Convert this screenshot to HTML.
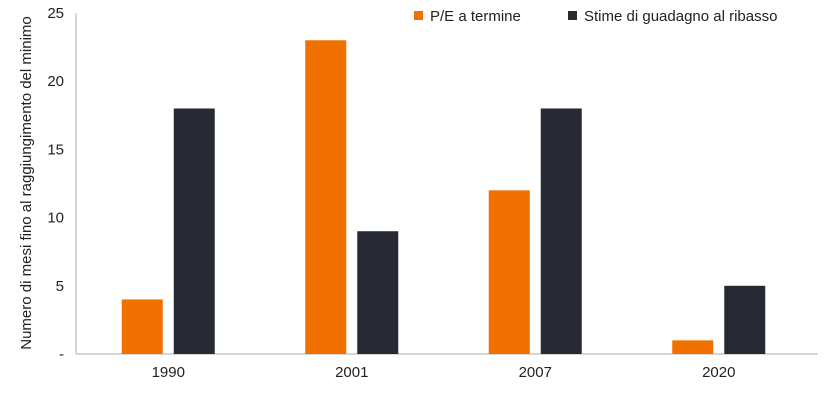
<!DOCTYPE html>
<html><head><meta charset="utf-8"><style>
html,body{margin:0;padding:0;background:#fff;}
svg{display:block;font-family:"Liberation Sans",Arial,sans-serif;}
</style></head><body>
<svg id="chart" width="824" height="406" viewBox="0 0 824 406"></svg>
<script>
const categories = ["1990","2001","2007","2020"];
const peValues = [4,23,12,1];
const earningsValues = [18,9,18,5];
const yTicks = [0,5,10,15,20,25];
const yTickLabels = ["-","5","10","15","20","25"];
const seriesNames = ["P/E a termine","Stime di guadagno al ribasso"];

const svg = document.getElementById('chart');
const NS = 'http://www.w3.org/2000/svg';
const x0 = 76, x1 = 810, yBase = 354, yTop = 13, yMax = 25;
const band = (x1 - x0) / categories.length;
const yScale = v => yBase - (v / yMax) * (yBase - yTop);
const bandCenter = i => x0 + band * (i + 0.5) + 0.5;
const barW = 41, gap = 11;

function mk(tag, attrs, parent) {
  const e = document.createElementNS(NS, tag);
  for (const k in attrs) e.setAttribute(k, attrs[k]);
  (parent || svg).appendChild(e);
  return e;
}

// axes
const yAxis = mk('line', {x1:x0, y1:yTop, x2:x0, y2:yBase, stroke:'#c8c8c8', 'stroke-width':1.5});


const xAxis = mk('line', {x1:x0, y1:yBase, x2:818, y2:yBase, stroke:'#c8c8c8', 'stroke-width':1.5});



yTicks.forEach((v, i) => {
  const t = mk('text', {x:64, y:yScale(v) + 5, 'text-anchor':'end', 'font-size':15, fill:'#222'});
  t.textContent = yTickLabels[i];
  
  
});

const yTitle = mk('text', {transform:'translate(31,183) rotate(-90)', 'text-anchor':'middle', 'font-size':15, fill:'#222'});
yTitle.textContent = 'Numero di mesi fino al raggiungimento del minimo';



categories.forEach((c, i) => {
  const cx = bandCenter(i);
  const b1 = mk('rect', {x:cx - gap/2 - barW, y:yScale(peValues[i]), width:barW, height:yBase - yScale(peValues[i]), fill:'#f07000'});
  
  
  const b2 = mk('rect', {x:cx + gap/2, y:yScale(earningsValues[i]), width:barW, height:yBase - yScale(earningsValues[i]), fill:'#272a35'});
  
  
  const t = mk('text', {x:cx, y:377, 'text-anchor':'middle', 'font-size':15, fill:'#222'});
  t.textContent = c;
  
  
});

// legend
const legend = mk('g', {});


const lx = [414, 568], colors = ['#f07000', '#272a35'];
seriesNames.forEach((n, i) => {
  const s = mk('rect', {x:lx[i], y:11, width:9, height:9, fill:colors[i]}, legend);
  
  
  const t = mk('text', {x:lx[i] + 16, y:21, 'font-size':15, fill:'#222'}, legend);
  t.textContent = n;
  
  
});
</script>
</body></html>
